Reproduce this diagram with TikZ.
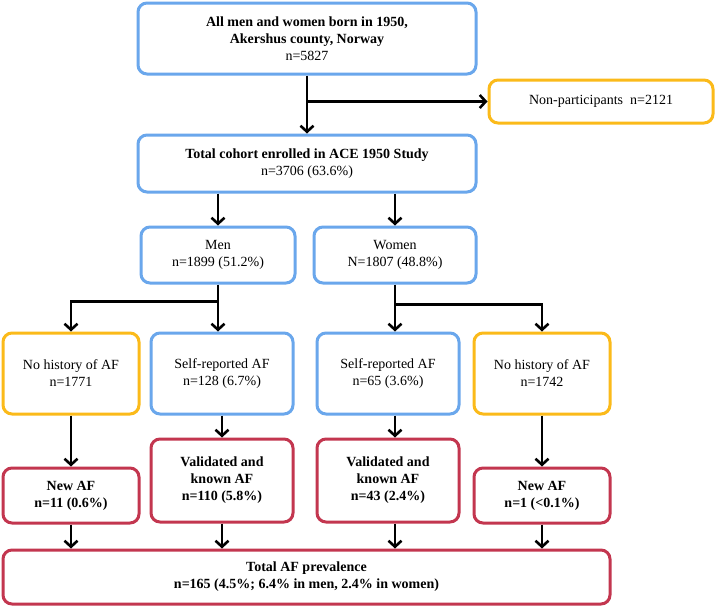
\documentclass[tikz,border=0pt]{standalone}
\usepackage{fontspec}
\setmainfont{Liberation Serif}
\usetikzlibrary{arrows.meta,calc}
\definecolor{bxblue}{HTML}{6AA7EC}
\definecolor{bxgold}{HTML}{FBBA1A}
\definecolor{bxred}{HTML}{C3364F}
\begin{document}
\begin{tikzpicture}[x=1pt,y=-1pt,
  box/.style={rectangle,rounded corners=9pt,line width=3pt,fill=white,align=center,
    font=\fontsize{14}{17}\selectfont,inner sep=2pt},
  bluebox/.style={box,draw=bxblue},
  goldbox/.style={box,draw=bxgold},
  redbox/.style={box,draw=bxred},
  conn/.style={line width=2.6pt,draw=black},
  arr/.style={conn,-{Straight Barb[length=6pt,width=13pt,line width=2.6pt]}}]
\useasboundingbox[fill=white] (0,0) rectangle (723,606);

\node[bluebox,minimum width=338,minimum height=71] (top) at (307,38.5)
  {\textbf{All men and women born in 1950,}\\\textbf{Akershus county, Norway}\\n=5827};
\node[goldbox,minimum width=224,minimum height=43] (nonpart) at (601,101.5)
  {Non-participants\enspace n=2121};
\node[bluebox,minimum width=338,minimum height=57] (cohort) at (307,163.5)
  {\textbf{Total cohort enrolled in ACE 1950 Study}\\n=3706 (63.6\%)};
\node[bluebox,minimum width=154,minimum height=56] (men) at (218,255)
  {Men\\n=1899 (51.2\%)};
\node[bluebox,minimum width=162,minimum height=56] (women) at (395,255)
  {Women\\N=1807 (48.8\%)};

\node[goldbox,minimum width=136,minimum height=81] (nhm) at (71,373.5)
  {No history of AF\\n=1771};
\node[bluebox,minimum width=142,minimum height=81] (srm) at (222,373.5)
  {Self-reported AF\\n=128 (6.7\%)};
\node[bluebox,minimum width=142,minimum height=81] (srw) at (388,373.5)
  {Self-reported AF\\n=65 (3.6\%)};
\node[goldbox,minimum width=136,minimum height=81] (nhw) at (542,373.5)
  {No history of AF\\n=1742};

\node[redbox,minimum width=136,minimum height=55] (newm) at (71,495.5)
  {\textbf{New AF}\\\textbf{n=11 (0.6\%)}};
\node[redbox,minimum width=142,minimum height=83] (valm) at (222,480.5)
  {\textbf{Validated and}\\\textbf{known AF}\\\textbf{n=110 (5.8\%)}};
\node[redbox,minimum width=142,minimum height=83] (valw) at (388,480.5)
  {\textbf{Validated and}\\\textbf{known AF}\\\textbf{n=43 (2.4\%)}};
\node[redbox,minimum width=136,minimum height=55] (neww) at (542,495.5)
  {\textbf{New AF}\\\textbf{n=1 (<0.1\%)}};

\node[redbox,minimum width=607,minimum height=54] (total) at (306.5,577)
  {\textbf{Total AF prevalence}\\\textbf{n=165 (4.5\%; 6.4\% in men, 2.4\% in women)}};

% connectors
\draw[arr] (top.south) -- (top.south |- cohort.north);
\coordinate (tj) at (top.south |- nonpart.west);
\draw[arr] (tj) -- (nonpart.west);

\draw[arr] (men.north |- cohort.south) -- (men.north);
\draw[arr] (women.north |- cohort.south) -- (women.north);

\coordinate (mj) at ($(men.south)+(0,17)$);
\draw[conn] (men.south) -- (mj);
\draw[arr] (mj) -- (mj |- srm.north);
\draw[arr] (mj) -| (nhm.north);

\coordinate (wj) at ($(women.south)+(0,20)$);
\draw[arr] (women.south) -- (women.south |- srw.north);
\draw[arr] (wj) -| (nhw.north);

\draw[arr] (nhm.south) -- (newm.north);
\draw[arr] (srm.south) -- (valm.north);
\draw[arr] (women.south |- srw.south) -- (women.south |- valw.north);
\draw[arr] (nhw.south) -- (neww.north);

\draw[arr] (newm.south) -- (newm.south |- total.north);
\draw[arr] (valm.south) -- (valm.south |- total.north);
\draw[arr] (women.south |- valw.south) -- (women.south |- total.north);
\draw[arr] (neww.south) -- (neww.south |- total.north);
\end{tikzpicture}
\end{document}
